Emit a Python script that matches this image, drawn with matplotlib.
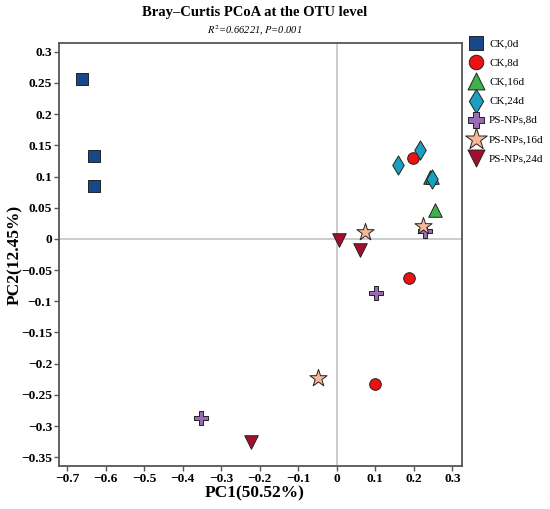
import matplotlib
matplotlib.use("Agg")
import matplotlib.pyplot as plt
from matplotlib.ticker import FixedLocator

plt.rcParams['font.family'] = ['Liberation Serif', 'DejaVu Serif']
plt.rcParams['mathtext.fontset'] = 'stix'

groups = ["CK,0d", "CK,8d", "CK,16d", "CK,24d", "PS-NPs,8d", "PS-NPs,16d", "PS-NPs,24d"]
colors = ["#17488a", "#ee1111", "#3fb04a", "#1a9fbf", "#9a6bb5", "#f7b89a", "#a40e2c"]
markers = ["s", "o", "^", "d", "P", "*", "v"]
sizes = [65, 70, 95, 95, 95, 170, 95]

pc1 = {
    "CK,0d": [-0.662, -0.630, -0.629],
    "CK,8d": [0.198, 0.188, 0.100],
    "CK,16d": [0.242, 0.254, 0.246],
    "CK,24d": [0.215, 0.160, 0.248],
    "PS-NPs,8d": [0.228, 0.103, -0.352],
    "PS-NPs,16d": [0.0735, 0.223, -0.049],
    "PS-NPs,24d": [0.006, 0.060, -0.223],
}
pc2 = {
    "CK,0d": [0.256, 0.133, 0.0855],
    "CK,8d": [0.129, -0.063, -0.232],
    "CK,16d": [0.100, 0.0465, 0.099],
    "CK,24d": [0.142, 0.119, 0.096],
    "PS-NPs,8d": [0.013, -0.087, -0.287],
    "PS-NPs,16d": [0.0107, 0.021, -0.223],
    "PS-NPs,24d": [-0.001, -0.017, -0.326],
}
xticks = [-0.7, -0.6, -0.5, -0.4, -0.3, -0.2, -0.1, 0, 0.1, 0.2, 0.3]
yticks = [0.3, 0.25, 0.2, 0.15, 0.1, 0.05, 0, -0.05, -0.1, -0.15, -0.2, -0.25, -0.3, -0.35]

fig = plt.figure(figsize=(5.5, 5.09), dpi=100)
ax = fig.add_axes([0.1073, 0.0845, 0.7327, 0.831])

ax.axhline(0, color="#c8c8c8", lw=1.3, zorder=1)
ax.axvline(0, color="#c8c8c8", lw=1.3, zorder=1)

handles = []
for g, c, m, s in zip(groups, colors, markers, sizes):
    h = ax.scatter(pc1[g], pc2[g], s=s, c=c, marker=m, edgecolors="#222222",
                   linewidths=0.7, zorder=3, label=g)
    handles.append(h)

ax.set_xlim(-0.721, 0.325)
ax.set_ylim(-0.364, 0.314)
ax.xaxis.set_major_locator(FixedLocator(xticks))
ax.yaxis.set_major_locator(FixedLocator(yticks))
ax.set_xticklabels([("\u2212" if t < 0 else "") + (f"{abs(t):g}") for t in xticks])
ax.set_yticklabels([("\u2212" if t < 0 else "") + (f"{abs(t):g}") for t in yticks])
for lab in ax.get_xticklabels() + ax.get_yticklabels():
    lab.set_fontweight("bold")
    lab.set_fontsize(9.6)
ax.tick_params(direction="out", length=3.5, width=1.0, color="#555555", pad=1.5)
for sp in ax.spines.values():
    sp.set_color("#555555")
    sp.set_linewidth(1.3)

ax.set_xlabel("PC1(50.52%)", fontsize=12.5, fontweight="bold")
ax.set_ylabel("PC2(12.45%)", fontsize=12.5, fontweight="bold")
ax.xaxis.set_label_coords(0.486, -0.046)
ax.yaxis.set_label_coords(-0.09, 0.5)

fig.text(0.4636, 0.976, "Bray\u2013Curtis PCoA at the OTU level", ha="center", va="center",
         fontsize=10.5, fontweight="bold")
fig.text(0.4636, 0.939, "$R^2$=0.66221, $P$=0.001", ha="center", va="center",
         fontsize=7.5, style="italic")

leg = fig.legend(handles=handles, loc="upper left", bbox_to_anchor=(0.848, 0.934),
                 frameon=False, fontsize=8, markerscale=1.25, handletextpad=0.65,
                 labelspacing=0.85, handlelength=1.0, borderaxespad=0)

fig.savefig("out.png", dpi=100)
